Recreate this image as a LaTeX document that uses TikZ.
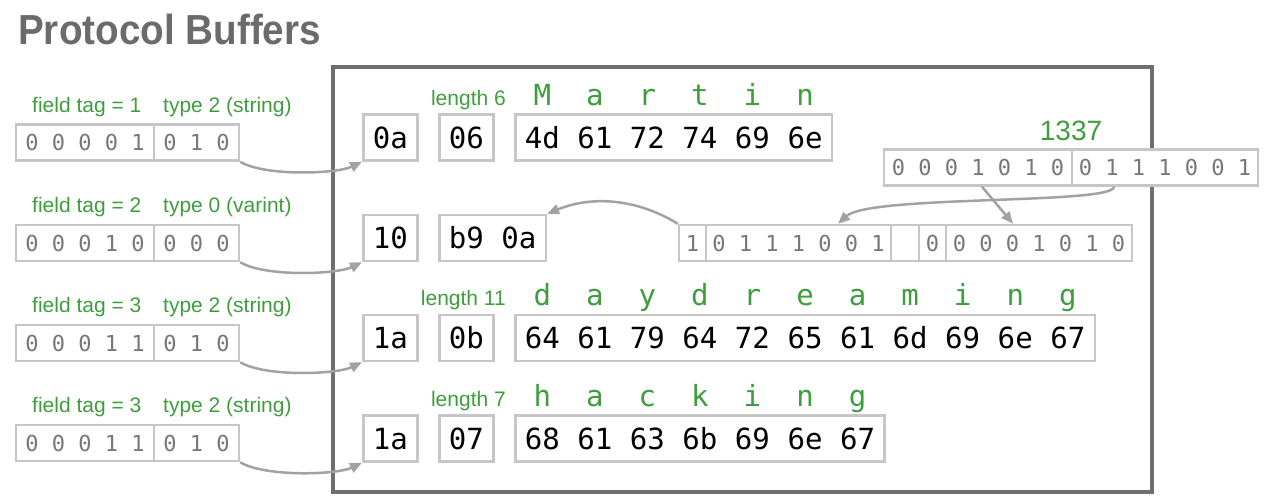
\documentclass[tikz,border=0pt]{standalone}
\usepackage{graphicx}
\usepackage{fontspec}
\setmainfont{Liberation Sans}
\newfontfamily\hexfont{DejaVu Sans Mono}
\usetikzlibrary{arrows.meta,calc}
\definecolor{pbgreen}{HTML}{3E9E3E}
\definecolor{titlegray}{HTML}{6B6B6B}
\definecolor{framegray}{HTML}{6E6E6E}
\definecolor{boxgray}{HTML}{C6C6C6}
\definecolor{bitgray}{HTML}{777777}
\definecolor{arrgray}{HTML}{A2A2A2}
\tikzset{
  hexbox/.style={draw=boxgray, line width=2.5pt, fill=white, inner xsep=9.5pt, inner ysep=0pt,
    minimum height=46pt, text height=22pt, text depth=0pt, font=\hexfont\fontsize{29.1}{30}\selectfont},
  letters/.style={text=pbgreen, inner sep=0pt, font=\hexfont\fontsize{29.1}{30}\selectfont},
  bitcell/.style={draw=boxgray, line width=2.5pt, fill=white, inner sep=0pt, minimum height=36pt,
    text=bitgray, font=\hexfont\fontsize{22}{22}\selectfont},
  lbl/.style={text=pbgreen, inner sep=0pt, font=\fontsize{21}{21}\selectfont},
  arr/.style={draw=arrgray, line width=2.5pt, -{Triangle[length=12pt,width=10pt]}},
  frameline/.style={draw=framegray, line width=4pt},
}
\begin{document}
\begin{tikzpicture}[x=1pt,y=-1pt]
\useasboundingbox (0,0) rectangle (1272,502);
% title
\node[anchor=base west, inner sep=0pt, text=titlegray, font=\bfseries\fontsize{42}{42}\selectfont] (title) at (18,45) {\scalebox{0.92}[1]{Protocol Buffers}};
% frame
\draw[frameline] (333,67) rectangle (1152,492);

% ---- left side: key bytes ----
\node[lbl, anchor=base west] (f1) at (32,113) {field tag = 1};
\node[lbl, anchor=base west] (y1) at (163,113) {type 2 (string)};
\node[bitcell, minimum width=138pt] (a1) at (85,142.5) {0~0~0~0~1};
\node[bitcell, minimum width=85pt] (b1) at (196.5,142.5) {0~1~0};

\node[lbl, anchor=base west] (f2) at (32,213) {field tag = 2};
\node[lbl, anchor=base west] (y2) at (163,213) {type 0 (varint)};
\node[bitcell, minimum width=138pt] (a2) at (85,243) {0~0~0~1~0};
\node[bitcell, minimum width=85pt] (b2) at (196.5,243) {0~0~0};

\node[lbl, anchor=base west] (f3) at (32,313) {field tag = 3};
\node[lbl, anchor=base west] (y3) at (163,313) {type 2 (string)};
\node[bitcell, minimum width=138pt] (a3) at (85,343) {0~0~0~1~1};
\node[bitcell, minimum width=85pt] (b3) at (196.5,343) {0~1~0};

\node[lbl, anchor=base west] (f4) at (32,413) {field tag = 3};
\node[lbl, anchor=base west] (y4) at (163,413) {type 2 (string)};
\node[bitcell, minimum width=138pt] (a4) at (85,443) {0~0~0~1~1};
\node[bitcell, minimum width=85pt] (b4) at (196.5,443) {0~1~0};

% ---- right side: encoded bytes ----
% row 1
\node[hexbox, anchor=west] (t1) at (362,137.5) {0a};
\node[hexbox, anchor=west] (n1) at (438,137.5) {06};
\node[hexbox, anchor=west] (d1) at (514,137.5) {4d~61~72~74~69~6e};
\node[lbl, anchor=base east] (len1) at (506,105.5) {length 6};
\node[letters, anchor=base] (w1) at ([yshift=32pt]d1.center) {M~~a~~r~~t~~i~~n};
% row 2
\node[hexbox, anchor=west] (t2) at (362,238) {10};
\node[hexbox, anchor=west] (n2) at (438,238) {b9~0a};
% row 3
\node[hexbox, anchor=west] (t3) at (362,338) {1a};
\node[hexbox, anchor=west] (n3) at (438,338) {0b};
\node[hexbox, anchor=west] (d3) at (514,338) {64~61~79~64~72~65~61~6d~69~6e~67};
\node[lbl, anchor=base east] (len3) at (506,306) {length 11};
\node[letters, anchor=base] (w3) at ([yshift=32pt]d3.center) {d~~a~~y~~d~~r~~e~~a~~m~~i~~n~~g};
% row 4
\node[hexbox, anchor=west] (t4) at (362,438.5) {1a};
\node[hexbox, anchor=west] (n4) at (438,438.5) {07};
\node[hexbox, anchor=west] (d4) at (514,438.5) {68~61~63~6b~69~6e~67};
\node[lbl, anchor=base east] (len4) at (506,406.5) {length 7};
\node[letters, anchor=base] (w4) at ([yshift=32pt]d4.center) {h~~a~~c~~k~~i~~n~~g};

% ---- varint 1337 ----
\node[lbl, font=\fontsize{28}{28}\selectfont, anchor=base] (v) at (1071,141) {1337};
\node[bitcell, minimum width=188pt] (tc1) at (978,167.5) {0~0~0~1~0~1~0};
\node[bitcell, minimum width=186pt] (tc2) at (1165,167.5) {0~1~1~1~0~0~1};

\node[bitcell, minimum width=27pt] (bc1) at (692.5,243) {1};
\node[bitcell, minimum width=185pt] (bc2) at (798.5,243) {0~1~1~1~0~0~1};
\node[bitcell, minimum width=28pt] (bc3) at (905,243) {};
\node[bitcell, minimum width=27pt] (bc4) at (932.5,243) {0};
\node[bitcell, minimum width=186pt] (bc5) at (1039,243) {0~0~0~1~0~1~0};

% ---- connectors ----
\draw[arr] (b1.south east) .. controls +(25,15) and +(-25,12) .. (t1.south west);
\draw[arr] (b2.south east) .. controls +(25,15) and +(-25,12) .. (t2.south west);
\draw[arr] (b3.south east) .. controls +(25,15) and +(-25,12) .. (t3.south west);
\draw[arr] (b4.south east) .. controls +(25,15) and +(-25,12) .. (t4.south west);

\draw[arr] ($(tc1.south)+(4,0)$) -- ($(bc5.north)+(-26,0)$);
\draw[arr] ($(tc2.south)+(-51,0)$) .. controls +(0,18) and +(32,-29) .. ($(bc2.north)+(39.5,0)$);
\draw[arr] (bc1.north west) .. controls +(-39,-24) and +(47,-19) .. (n2.north east);
\end{tikzpicture}
\end{document}
